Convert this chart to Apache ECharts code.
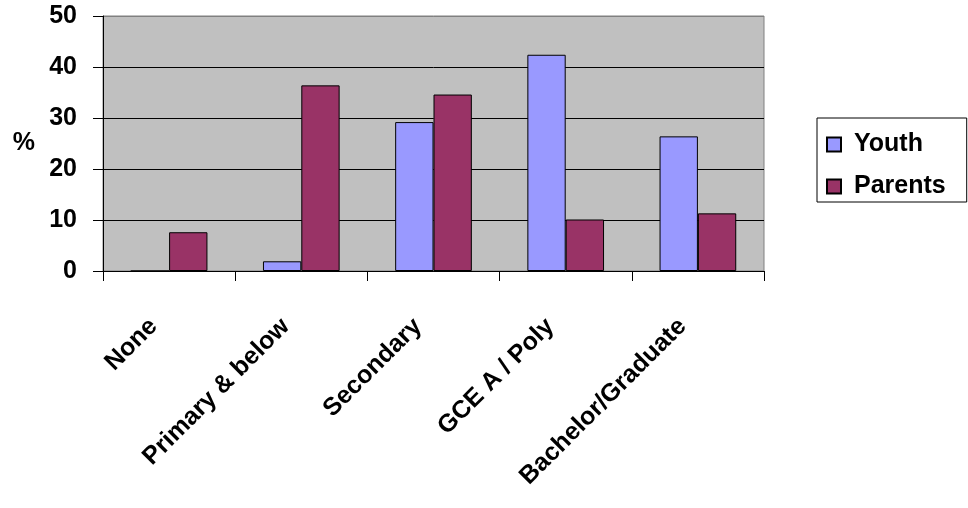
<!DOCTYPE html>
<html>
<head>
<meta charset="utf-8">
<script src="https://cdn.jsdelivr.net/npm/echarts@6/dist/echarts.min.js"></script>
<style>
  html, body { margin: 0; padding: 0; background: #ffffff; }
  #chart { width: 968px; height: 508px; }
</style>
</head>
<body>
<div id="chart"></div>
<script>
// Education level, in percent
const categories = ['None', 'Primary & below', 'Secondary', 'GCE A / Poly', 'Bachelor/Graduate'];
const youth = [0, 1.9, 29.2, 42.4, 26.4];
const parents = [7.6, 36.4, 34.6, 10.1, 11.3];
const yTicks = [0, 10, 20, 30, 40, 50];

const FONT = '"Liberation Sans", Arial, sans-serif';
const SIZE = 25;
const chart = echarts.init(document.getElementById('chart'), null, { renderer: 'canvas' });

chart.setOption({
  animation: false,
  backgroundColor: '#ffffff',
  textStyle: { fontFamily: FONT },
  grid: {
    left: 103, right: 204, top: 16, bottom: 237,
    show: true,
    backgroundColor: '#C0C0C0',
    borderColor: '#808080',
    borderWidth: 1
  },
  legend: {
    orient: 'vertical',
    left: 817,
    top: 118,
    padding: [14, 21, 3, 9],
    itemGap: 17,
    itemWidth: 14,
    itemHeight: 14,
    icon: 'rect',
    borderColor: '#000000',
    borderWidth: 1,
    backgroundColor: '#ffffff',
    textStyle: { fontFamily: FONT, fontSize: SIZE, fontWeight: 'bold', color: '#000000', padding: [0, 0, 0, 8] },
    data: ['Youth', 'Parents']
  },
  xAxis: {
    type: 'category',
    data: categories,
    boundaryGap: true,
    axisLine: { lineStyle: { color: '#000000', width: 1 } },
    axisTick: { show: true, length: 10, lineStyle: { color: '#000000' } },
    axisLabel: {
      rotate: 45,
      interval: 0,
      margin: 36,
      padding: [0, 22, 10, 0],
      fontFamily: FONT,
      fontSize: SIZE,
      fontWeight: 'bold',
      color: '#000000'
    },
    splitLine: { show: false }
  },
  yAxis: {
    type: 'value',
    min: yTicks[0],
    max: yTicks[yTicks.length - 1],
    interval: 10,
    name: '%',
    nameLocation: 'middle',
    nameGap: 68,
    nameRotate: 0,
    nameTextStyle: { fontFamily: FONT, fontSize: SIZE, fontWeight: 'bold', color: '#000000' },
    axisLine: { show: true, lineStyle: { color: '#000000', width: 1 } },
    axisTick: { show: true, length: 10, lineStyle: { color: '#000000' } },
    axisLabel: {
      margin: 26,
      fontFamily: FONT,
      fontSize: SIZE,
      fontWeight: 'bold',
      color: '#000000'
    },
    splitLine: {
      show: true,
      lineStyle: { color: ['#000000', '#000000', '#000000', '#000000', '#000000', '#808080'], width: 1 }
    }
  },
  series: [
    {
      name: 'Youth',
      type: 'bar',
      data: youth,
      barGap: '0%',
      barCategoryGap: '42%',
      itemStyle: { color: '#9999FF', borderColor: '#000000', borderWidth: 1 }
    },
    {
      name: 'Parents',
      type: 'bar',
      data: parents,
      barGap: '0%',
      barCategoryGap: '42%',
      itemStyle: { color: '#993366', borderColor: '#000000', borderWidth: 1 }
    }
  ]
});
</script>
</body>
</html>
